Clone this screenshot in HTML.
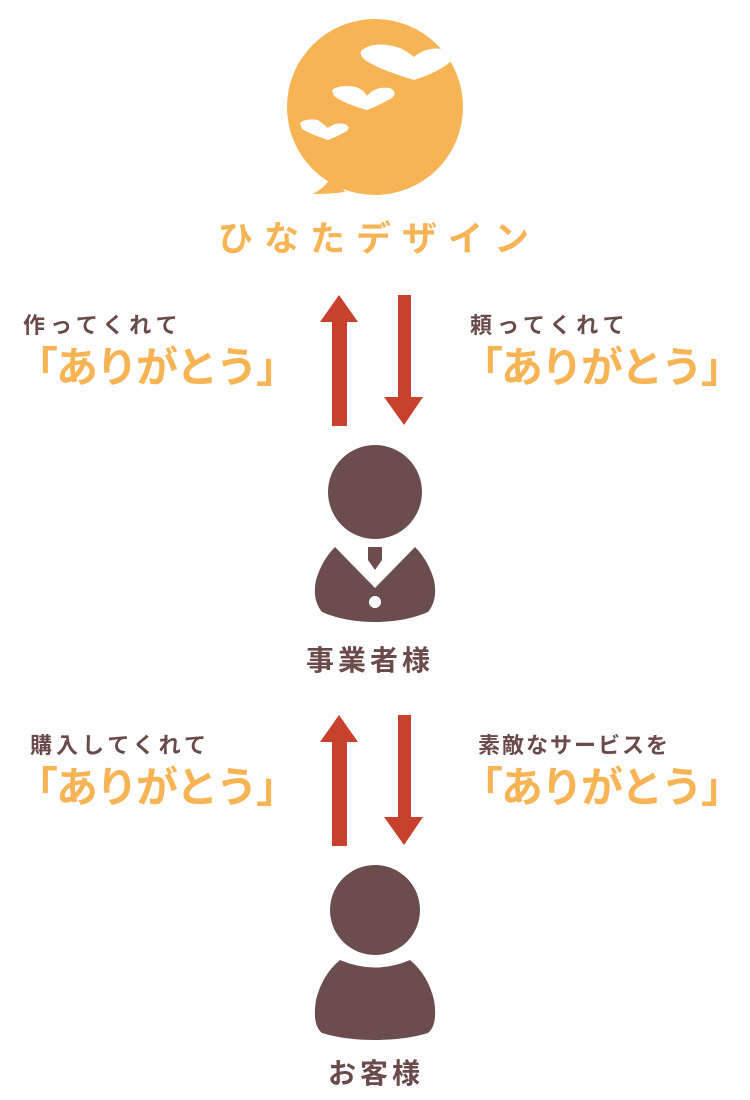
<!DOCTYPE html>
<html><head><meta charset="utf-8"><style>
body{margin:0;background:#fff;width:750px;height:1100px;position:relative;overflow:hidden;font-family:"Liberation Sans","Noto Sans CJK JP",sans-serif}
.t{position:absolute;white-space:nowrap;line-height:1}
.s{color:#6b4a4a;font-weight:bold;font-size:22px;letter-spacing:5px}
.a{color:#f6b455;font-size:42px;letter-spacing:-2px;font-weight:bold}
.n{color:#6b4a4a;font-weight:bold;font-size:28px;letter-spacing:4px}
</style></head><body>
<svg width="750" height="1100" style="position:absolute;left:0;top:0">
<g fill="#f6b455">
<circle cx="375" cy="107" r="88"/>
<path d="M330 170 L345 192 Q330 194 313 194 Q330 185 335 168 Z"/>
</g>
<g fill="#fff">
<path d="M362 50 Q375 40 400 48 Q408 52 414 57 Q428 45 448 50 L455 58 Q440 72 414 80 Q380 70 365 60 Q358 54 362 50 Z"/>
<path d="M332 90 Q340 84 356 87 Q364 90 367 96 Q375 86 390 88 Q398 92 392 98 Q380 105 367 110 Q345 104 334 96 Z"/>
<path d="M300 123 Q306 118 318 120 L328 128 Q335 122 345 124 Q352 128 345 132 Q338 136 328 140 Q310 134 302 129 Z"/>
</g>
<g fill="#c8412d">
<path d="M332 426 V322 H320 L339 295 L358 322 H347 V426 Z"/>
<path d="M398 295 V397 H384 L404 425 L423 397 H411 V295 Z"/>
<path d="M332 846 V742 H320 L339 715 L358 742 H347 V846 Z"/>
<path d="M398 715 V817 H384 L404 845 L423 817 H411 V715 Z"/>
</g>
<g fill="#6b4d4d">
<circle cx="375" cy="492" r="47"/>
<path d="M335 547 Q322 560 316 580 Q312 600 322 612 Q345 622 375 622 Q405 622 428 612 Q438 600 434 580 Q428 560 415 547 L375 588 Z"/>
<path d="M368 547 H382 V560 L375 570 L368 560 Z"/>
<circle cx="375" cy="910" r="45"/>
<path d="M340 960 Q375 975 410 960 Q428 975 434 1000 Q438 1025 428 1033 Q405 1040 375 1040 Q345 1040 322 1033 Q312 1025 316 1000 Q322 975 340 960 Z"/>
</g>
<circle cx="375" cy="602" r="6" fill="#fff"/>
</svg>
<div class="t" style="left:218px;top:222px;color:#f6b455;font-size:35px;letter-spacing:11px;font-weight:bold">ひなたデザイン</div>
<div class="t s" style="left:23px;top:315px">作ってくれて</div>
<div class="t a" style="left:16px;top:347px">「ありがとう」</div>
<div class="t s" style="left:470px;top:315px">頼ってくれて</div>
<div class="t a" style="left:461px;top:347px">「ありがとう」</div>
<div class="t n" style="left:306px;top:647px">事業者様</div>
<div class="t s" style="left:30px;top:735px;letter-spacing:4px">購入してくれて</div>
<div class="t a" style="left:16px;top:767px">「ありがとう」</div>
<div class="t s" style="left:478px;top:735px;letter-spacing:2px">素敵なサービスを</div>
<div class="t a" style="left:461px;top:767px">「ありがとう」</div>
<div class="t n" style="left:328px;top:1060px">お客様</div>
</body></html>
